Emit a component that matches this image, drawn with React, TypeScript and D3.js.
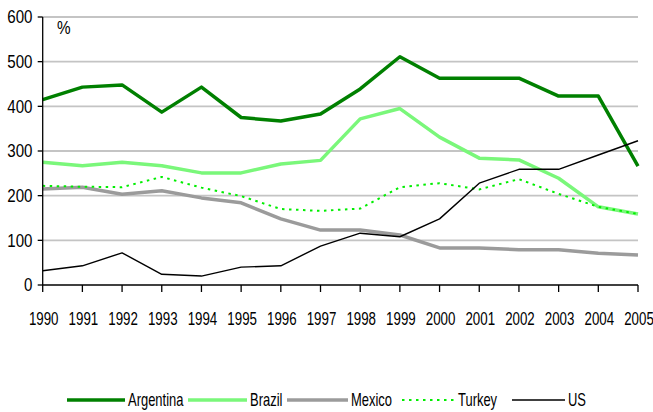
import React from "react";
import * as d3 from "d3";

const years = [1990,1991,1992,1993,1994,1995,1996,1997,1998,1999,2000,2001,2002,2003,2004,2005];
const argentina = [415,443,448,387,443,375,367,383,439,511,463,463,463,423,423,266];
const brazil = [275,267,275,267,251,251,271,279,372,395,331,284,280,239,175,159];
const mexico = [215,219,203,211,195,184,148,123,123,112,83,83,79,79,71,67];
const turkey = [222,220,219,242,218,199,170,166,171,219,228,214,237,204,175,159];
const us = [32,43,72,24,20,40,43,87,116,108,148,228,259,259,291,323];
const yTicks = [0,100,200,300,400,500,600];

const series = [
  { name: "Argentina", values: argentina, color: "#008000", width: 3.5, dash: "" },
  { name: "Brazil", values: brazil, color: "#7af77a", width: 3.5, dash: "" },
  { name: "Mexico", values: mexico, color: "#9b9b9b", width: 3.5, dash: "" },
  { name: "Turkey", values: turkey, color: "#00ee00", width: 2, dash: "2.5,4.5" },
  { name: "US", values: us, color: "#000000", width: 1.4, dash: "" },
];

const FONT = "'Liberation Sans', Arial, sans-serif";

function T(props: { x: number; y: number; sx: number; size: number; anchor?: string; children: React.ReactNode }) {
  return (
    <text transform={`translate(${props.x},${props.y}) scale(${props.sx},1)`} fontSize={props.size}
      textAnchor={props.anchor || "start"} fill="#000" fontFamily={FONT}>{props.children}</text>
  );
}

export default function App() {
  const W = 653, H = 412;
  const x0 = 42.7, x1 = 638;
  const x = d3.scaleLinear().domain([1990, 2005]).range([x0, x1]);
  const y = d3.scaleLinear().domain([0, 600]).range([285, 17]);
  const line = d3.line<number>().x((_, i) => x(years[i])).y(d => y(d));

  const legendX = [67, 188, 287, 402, 512];
  const legendLen = [58, 59, 61, 53, 53];

  return (
    <svg width={W} height={H} style={{ position: "absolute", left: 0, top: 0, background: "#fff" }}>
      {yTicks.filter(t => t > 0).map(t => (
        <line key={"g" + t} x1={x0} x2={x1} y1={y(t)} y2={y(t)} stroke="#c4c4c4" strokeWidth={1.8} />
      ))}
      {series.map(s => (
        <path key={s.name} d={line(s.values) || ""} fill="none" stroke={s.color} strokeWidth={s.width}
          strokeDasharray={s.dash || undefined} strokeLinejoin="round" />
      ))}
      <line x1={x0} x2={x0} y1={y(600)} y2={y(0)} stroke="#000" strokeWidth={1.3} />
      <line x1={x0} x2={x1} y1={y(0)} y2={y(0)} stroke="#000" strokeWidth={1.3} />
      {yTicks.map(t => (
        <g key={"yt" + t}>
          <line x1={x0 - 5} x2={x0} y1={y(t)} y2={y(t)} stroke="#000" strokeWidth={1.3} />
          <T x={32.5} y={y(t) + 6.3} sx={0.84} size={18} anchor="end">{t}</T>
        </g>
      ))}
      {years.map(yr => (
        <g key={"xt" + yr}>
          <line x1={x(yr)} x2={x(yr)} y1={y(0)} y2={y(0) + 7} stroke="#000" strokeWidth={1.3} />
          <T x={x(yr) + 1} y={325} sx={0.72} size={18.5} anchor="middle">{yr}</T>
        </g>
      ))}
      <T x={57} y={34} sx={0.85} size={18}>%</T>
      {series.map((s, i) => (
        <g key={"lg" + s.name}>
          <line x1={legendX[i]} x2={legendX[i] + legendLen[i]} y1={400} y2={400} stroke={s.color}
            strokeWidth={s.width} strokeDasharray={s.dash || undefined} />
          <T x={legendX[i] + legendLen[i] + 3} y={405.5} sx={0.72} size={18}>{s.name}</T>
        </g>
      ))}
    </svg>
  );
}
